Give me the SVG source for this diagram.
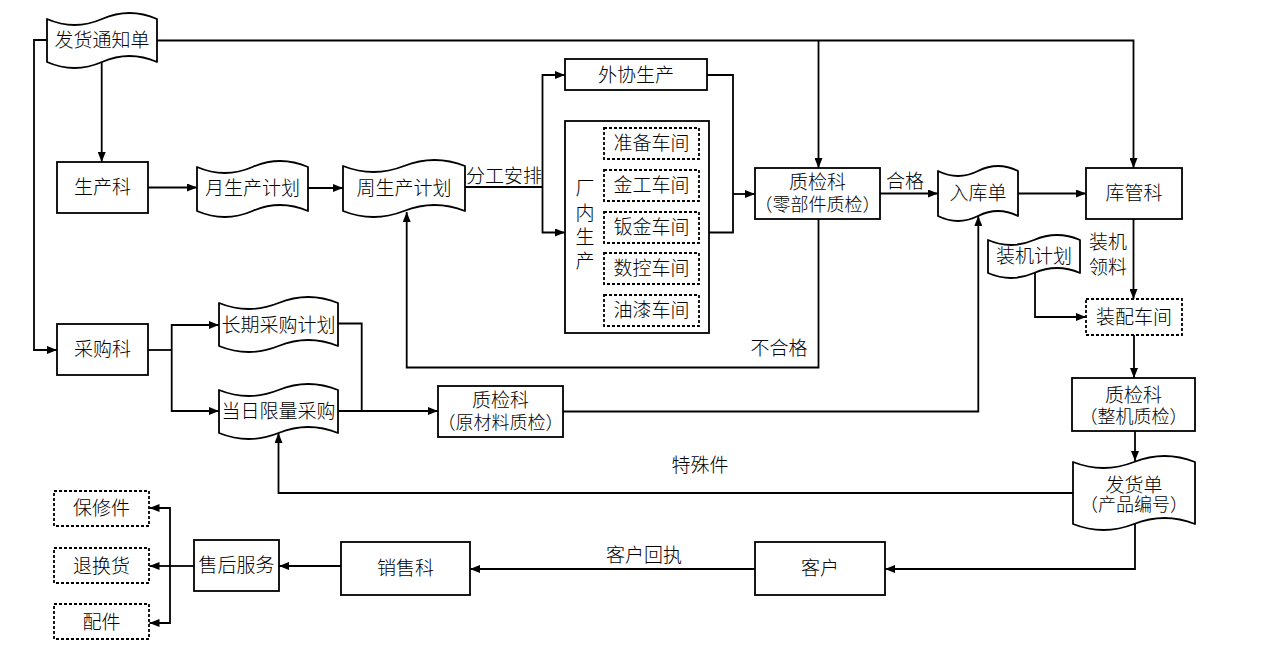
<svg xmlns="http://www.w3.org/2000/svg" width="1268" height="653" viewBox="0 0 1268 653">
<style>
.box{fill:#fff;stroke:#000;stroke-width:1.8}
.dash{fill:#fff;stroke:#000;stroke-width:1.8;stroke-dasharray:3 2}
.tape{fill:#fff;stroke:#000;stroke-width:1.8;stroke-linejoin:round}
.ln{fill:none;stroke:#000;stroke-width:1.8}
.arr{fill:none;stroke:#000;stroke-width:1.8;marker-end:url(#ah)}
text{font-family:"Liberation Serif","Noto Sans CJK SC",serif;font-size:19px;font-weight:300;fill:#000;text-anchor:middle;dominant-baseline:central}
.sm{font-size:18px}
</style>
<defs>
<marker id="ah" viewBox="0 0 10 8" refX="10" refY="4" markerWidth="10" markerHeight="8" markerUnits="userSpaceOnUse" orient="auto">
<path d="M0,0 L10,4 L0,8 Z" fill="#000"/>
</marker>
</defs>
<rect width="1268" height="653" fill="#fff"/>

<g id="connectors">
<path class="arr" d="M47,40 H34 V350 H57"/>
<path class="arr" d="M101.7,62 V162"/>
<path class="arr" d="M157,40.5 H1133.5 V168"/>
<path class="arr" d="M818.5,40.5 V168"/>
<path class="arr" d="M148,187.5 H197"/>
<path class="arr" d="M308,188 H343"/>
<path class="ln" d="M465,187 H542.5"/>
<path class="arr" d="M542.5,187 V75 H565"/>
<path class="arr" d="M542.5,187 V232.5 H565"/>
<path class="ln" d="M707,75 H733 V232.5 H709"/>
<path class="arr" d="M733,194 H755"/>
<path class="arr" d="M880,193.5 H938"/>
<path class="arr" d="M818.5,219 V367.5 H406.7 V212"/>
<path class="arr" d="M1018,193.5 H1086"/>
<path class="arr" d="M1133.5,219 V299"/>
<path class="arr" d="M1035,273 V317 H1086"/>
<path class="arr" d="M1134,335 V378"/>
<path class="arr" d="M1135,431 V461"/>
<path class="arr" d="M1135,524 V569 H885"/>
<path class="arr" d="M1073,493 H278.5 V433"/>
<path class="arr" d="M755,569 H470"/>
<path class="arr" d="M341,566 H279"/>
<path class="ln" d="M194,566 H170"/>
<path class="arr" d="M170,566 V508 H149.5"/>
<path class="arr" d="M170,566 H149.5"/>
<path class="arr" d="M170,566 V623 H149.5"/>
<path class="ln" d="M148,350 H171.7"/>
<path class="arr" d="M171.7,350 V325 H219"/>
<path class="arr" d="M171.7,350 V411 H219"/>
<path class="ln" d="M338,323.5 H361.7 V411"/>
<path class="arr" d="M338,411 H438"/>
<path class="arr" d="M563,411.5 H978.3 V216"/>
<text x="504" y="176">分工安排</text>
<text x="905" y="181">合格</text>
<text x="779" y="348">不合格</text>
<text x="700" y="465">特殊件</text>
<text x="644" y="555">客户回执</text>
<text x="1108" y="242">装机</text>
<text x="1108" y="267">领料</text>
</g>

<g id="fahuotongzhidan">
<path class="tape" d="M47,19 Q74.5,31 102,19 T157,19 L157,62 Q129.5,50 102,62 T47,62 Z"/>
<text x="102" y="40">发货通知单</text>
</g>
<g id="shengchanke">
<rect class="box" x="57" y="162" width="91" height="51"/>
<text x="102.5" y="187.5">生产科</text>
</g>
<g id="caigouke">
<rect class="box" x="57" y="324" width="91" height="51"/>
<text x="102.5" y="349.5">采购科</text>
</g>
<g id="yueshengchanjihua">
<path class="tape" d="M197,167 Q224.75,179 252.5,167 T308,167 L308,211 Q280.25,199 252.5,211 T197,211 Z"/>
<text x="252.5" y="188">月生产计划</text>
</g>
<g id="zhoushengchanjihua">
<path class="tape" d="M343,166 Q373.5,178 404,166 T465,166 L465,211 Q434.5,199 404,211 T343,211 Z"/>
<text x="404" y="188">周生产计划</text>
</g>
<g id="waixieshengchan">
<rect class="box" x="565" y="59" width="142" height="31"/>
<text x="636" y="75">外协生产</text>
</g>
<g id="changneishengchan">
<rect class="box" x="565" y="121" width="144" height="212"/>
<text x="585" y="188">厂</text>
<text x="585" y="213">内</text>
<text x="585" y="237">生</text>
<text x="585" y="261">产</text>
</g>
<g id="zhunbeichejian">
<rect class="dash" x="604" y="128" width="95" height="31"/>
<text x="651.5" y="143.5">准备车间</text>
</g>
<g id="jingongchejian">
<rect class="dash" x="604" y="170" width="95" height="31"/>
<text x="651.5" y="185.5">金工车间</text>
</g>
<g id="banjinchejian">
<rect class="dash" x="604" y="212" width="95" height="31"/>
<text x="651.5" y="227.5">钣金车间</text>
</g>
<g id="shukongchejian">
<rect class="dash" x="604" y="253" width="95" height="31"/>
<text x="651.5" y="268.5">数控车间</text>
</g>
<g id="youqichejian">
<rect class="dash" x="604" y="295" width="95" height="31"/>
<text x="651.5" y="310.5">油漆车间</text>
</g>
<g id="zhijianke-lingbujian">
<rect class="box" x="755" y="168" width="125" height="51"/>
<text x="817.5" y="182">质检科</text>
<text class="sm" x="817.5" y="205">（零部件质检）</text>
</g>
<g id="rukudan">
<path class="tape" d="M938,171 Q958,181 978,171 T1018,171 L1018,216 Q998,206 978,216 T938,216 Z"/>
<text x="978" y="193">入库单</text>
</g>
<g id="kuguanke">
<rect class="box" x="1086" y="168" width="96" height="51"/>
<text x="1134" y="193.5">库管科</text>
</g>
<g id="zhuangjijihua">
<path class="tape" d="M988,240 Q1011,250 1034,240 T1080,240 L1080,273 Q1057,263 1034,273 T988,273 Z"/>
<text x="1034" y="256.5">装机计划</text>
</g>
<g id="zhuangpeichejian">
<rect class="dash" x="1086" y="299" width="96" height="36"/>
<text x="1134" y="317">装配车间</text>
</g>
<g id="zhijianke-zhengji">
<rect class="box" x="1072" y="378" width="123" height="53"/>
<text x="1133.5" y="395">质检科</text>
<text class="sm" x="1133.5" y="417">（整机质检）</text>
</g>
<g id="fahuodan">
<path class="tape" d="M1073,462 Q1103.5,474 1134,462 T1195,462 L1195,524 Q1164.5,512 1134,524 T1073,524 Z"/>
<text x="1134" y="485">发货单</text>
<text class="sm" x="1134" y="505">（产品编号）</text>
</g>
<g id="changqicaigoujihua">
<path class="tape" d="M219,303 Q248.75,315 278.5,303 T338,303 L338,346 Q308.25,334 278.5,346 T219,346 Z"/>
<text x="278.5" y="325">长期采购计划</text>
</g>
<g id="dangrixianliangcaigou">
<path class="tape" d="M219,390 Q248.75,402 278.5,390 T338,390 L338,433 Q308.25,421 278.5,433 T219,433 Z"/>
<text x="278.5" y="411.5">当日限量采购</text>
</g>
<g id="zhijianke-yuancailiao">
<rect class="box" x="438" y="386" width="125" height="51"/>
<text x="500.5" y="400">质检科</text>
<text class="sm" x="500.5" y="423">（原材料质检）</text>
</g>
<g id="kehu">
<rect class="box" x="755" y="542" width="130" height="53"/>
<text x="820" y="568.5">客户</text>
</g>
<g id="xiaoshouke">
<rect class="box" x="341" y="542" width="129" height="53"/>
<text x="405.5" y="568.5">销售科</text>
</g>
<g id="shouhoufuwu">
<rect class="box" x="194" y="540" width="85" height="51"/>
<text x="236.5" y="565.5">售后服务</text>
</g>
<g id="baoxiujian">
<rect class="dash" x="54" y="491" width="95" height="35"/>
<text x="101.5" y="508.5">保修件</text>
</g>
<g id="tuihuanhuo">
<rect class="dash" x="54" y="548" width="95" height="35"/>
<text x="101.5" y="566">退换货</text>
</g>
<g id="peijian">
<rect class="dash" x="54" y="604" width="95" height="35"/>
<text x="101.5" y="622">配件</text>
</g>
</svg>
